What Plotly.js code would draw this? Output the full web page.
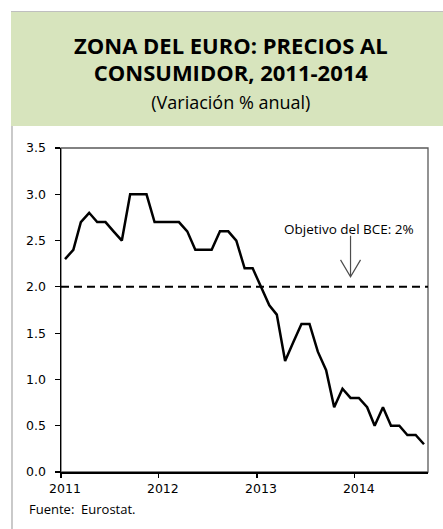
<!DOCTYPE html>
<html>
<head>
<meta charset="utf-8">
<script src="https://cdn.plot.ly/plotly-3.0.1.min.js"></script>
<style>
  html, body { margin: 0; padding: 0; background: #ffffff; }
  #chart { width: 443px; height: 529px; }
</style>
</head>
<body>
<div id="chart"></div>
<script>
// ---- Data (Eurozone HICP, annual % change) ----
const months = [
  '2011-01','2011-02','2011-03','2011-04','2011-05','2011-06','2011-07','2011-08','2011-09','2011-10','2011-11','2011-12',
  '2012-01','2012-02','2012-03','2012-04','2012-05','2012-06','2012-07','2012-08','2012-09','2012-10','2012-11','2012-12',
  '2013-01','2013-02','2013-03','2013-04','2013-05','2013-06','2013-07','2013-08','2013-09','2013-10','2013-11','2013-12',
  '2014-01','2014-02','2014-03','2014-04','2014-05','2014-06','2014-07','2014-08','2014-09'
];
const inflation = [
  2.3, 2.4, 2.7, 2.8, 2.7, 2.7, 2.6, 2.5, 3.0, 3.0, 3.0, 2.7,
  2.7, 2.7, 2.7, 2.6, 2.4, 2.4, 2.4, 2.6, 2.6, 2.5, 2.2, 2.2,
  2.0, 1.8, 1.7, 1.2, 1.4, 1.6, 1.6, 1.3, 1.1, 0.7, 0.9, 0.8,
  0.8, 0.7, 0.5, 0.7, 0.5, 0.5, 0.4, 0.4, 0.3
];
const target = 2.0;                       // Objetivo del BCE
const targetLabel = 'Objetivo del BCE: 2%';
const targetLabelMonth = '2013-12';
const yTicks = [0, 0.5, 1.0, 1.5, 2.0, 2.5, 3.0, 3.5];
const yTickText = ['0.0','0.5','1.0','1.5','2.0','2.5','3.0','3.5'];
const xTicks = ['2011-01-01','2012-01-01','2013-01-01','2014-01-01'];
const xTickText = ['2011','2012','2013','2014'];
const titleLine1 = 'ZONA DEL EURO: PRECIOS AL';
const titleLine2 = 'CONSUMIDOR, 2011-2014';
const subtitle = '(Variación % anual)';
const source = 'Fuente:  Eurostat.';

// ---- Layout geometry (pixels) ----
const W = 443, H = 529;
const L = 61, R = 15, T = 148, B = 57;
const pw = W - L - R, ph = H - T - B;
const px = v => (v - L) / pw;            // pixel x -> paper
const py = v => (H - B - v) / ph;        // pixel y -> paper

const xDates = months.map(m => m + '-16');

const textFont = 'Open Sans, Noto Sans, sans-serif';
const tickFont = 'DejaVu Sans, Verdana, sans-serif';

const traces = [{
  x: xDates,
  y: inflation,
  type: 'scatter',
  mode: 'lines',
  line: { color: '#000000', width: 2.5 },
  hoverinfo: 'x+y',
  showlegend: false
}];

const titleText =
  '<span style="font-size:22px"><b>' + titleLine1 + '</b></span><br>' +
  '<span style="font-size:22px"><b>' + titleLine2 + '</b></span><br>' +
  '<span style="font-size:18px">' + subtitle + '</span>';

const layout = {
  width: W, height: H,
  margin: { l: L, r: R, t: T, b: B, pad: 0 },
  paper_bgcolor: '#ffffff',
  plot_bgcolor: '#ffffff',
  showlegend: false,
  xaxis: {
    type: 'date',
    range: ['2011-01-01', '2014-10-01'],
    tickmode: 'array',
    tickvals: xTicks,
    ticktext: xTickText,
    ticks: 'outside',
    ticklen: 4,
    tickwidth: 1.2,
    tickcolor: '#000',
    showline: true,
    linecolor: '#000',
    linewidth: 1.5,
    showgrid: false,
    zeroline: false,
    ticklabelshift: 4,
    tickfont: { family: tickFont, size: 12.5, color: '#000' }
  },
  yaxis: {
    range: [0, 3.5],
    tickmode: 'array',
    tickvals: yTicks,
    ticktext: yTickText,
    ticks: 'outside',
    ticklen: 5,
    tickwidth: 1.2,
    tickcolor: '#000',
    showline: true,
    linecolor: '#000',
    linewidth: 1.5,
    showgrid: false,
    zeroline: false,
    ticklabelstandoff: 6,
    tickfont: { family: tickFont, size: 12.5, color: '#000' }
  },
  shapes: [
    // green title box
    { type: 'rect', xref: 'paper', yref: 'paper', layer: 'below',
      x0: px(11), x1: px(444), y0: py(126), y1: py(11),
      fillcolor: '#d7e4bd', line: { width: 0 } },
    // top grey border of title box
    { type: 'line', xref: 'paper', yref: 'paper', layer: 'below',
      x0: px(11), x1: px(444), y0: py(11.5), y1: py(11.5),
      line: { color: '#bfbfbf', width: 1 } },
    // left grey border of chart frame
    { type: 'line', xref: 'paper', yref: 'paper', layer: 'below',
      x0: px(12), x1: px(12), y0: py(126), y1: py(530),
      line: { color: '#a6a6a6', width: 1.2 } },
    // plot area border (top / right grey)
    { type: 'rect', xref: 'paper', yref: 'paper', layer: 'below',
      x0: 0, x1: 1, y0: 0, y1: 1,
      line: { color: '#595959', width: 1.3 } },
    // 2% target line
    { type: 'line', xref: 'paper', yref: 'y', layer: 'above',
      x0: 0, x1: 1, y0: target, y1: target,
      line: { color: '#000', width: 2, dash: '8px,5px' } },
    // arrow pointing at target line
    { type: 'path', xref: 'x', yref: 'y', layer: 'above',
      xsizemode: 'pixel', ysizemode: 'pixel',
      xanchor: targetLabelMonth + '-16', yanchor: target,
      path: 'M0,51 L0,10 M-10,27 L0,10 L10,27',
      line: { color: '#4d4d4d', width: 1.2 } }
  ],
  annotations: [
    { xref: 'paper', yref: 'paper', x: px(231), y: py(72), xanchor: 'center', yanchor: 'middle',
      text: titleText, showarrow: false, align: 'center',
      font: { family: textFont, size: 21, color: '#000' } },
    { xref: 'x', yref: 'y', x: targetLabelMonth + '-16', y: target, xanchor: 'center', yanchor: 'middle',
      xshift: -2, yshift: 58,
      text: targetLabel, showarrow: false,
      font: { family: textFont, size: 13.5, color: '#000' } },
    { xref: 'paper', yref: 'paper', x: px(27), y: py(509), xanchor: 'left', yanchor: 'middle',
      text: source, showarrow: false,
      font: { family: textFont, size: 13, color: '#000' } }
  ]
};

Plotly.newPlot('chart', traces, layout, { displayModeBar: false, staticPlot: true });
</script>
</body>
</html>
